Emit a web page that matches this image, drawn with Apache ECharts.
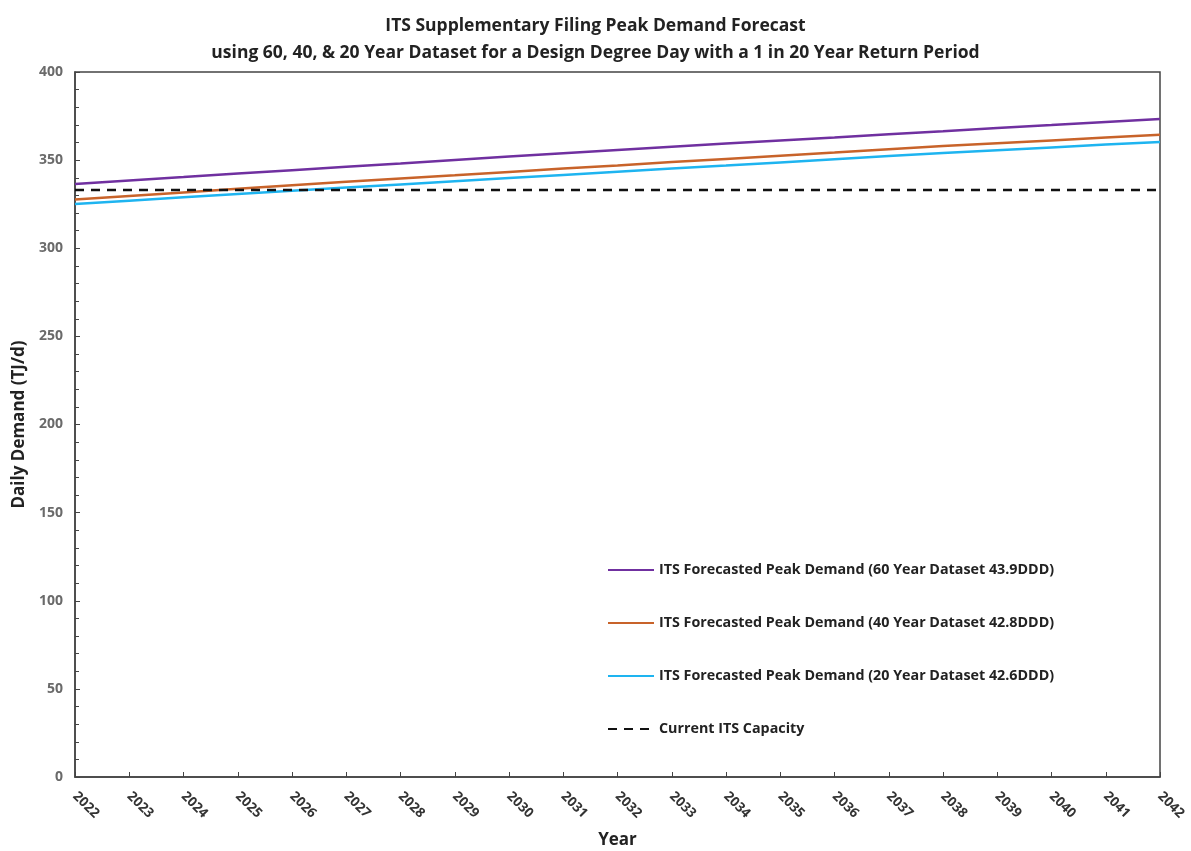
<!DOCTYPE html>
<html><head><meta charset="utf-8">
<script src="https://cdn.jsdelivr.net/npm/echarts@6/dist/echarts.min.js"></script>
<style>html,body{margin:0;padding:0;background:#fff}#c{width:1191px;height:851px}</style>
</head><body><div id="c"></div>
<script>
const years = ['2022','2023','2024','2025','2026','2027','2028','2029','2030','2031','2032','2033','2034','2035','2036','2037','2038','2039','2040','2041','2042'];
const demand60 = [336.5,338.5,340.4,342.4,344.3,346.2,348.1,350.1,352.0,353.9,355.8,357.6,359.4,361.2,362.9,364.7,366.4,368.2,369.9,371.7,373.4];
const demand40 = [327.7,329.7,331.7,333.7,335.7,337.7,339.6,341.4,343.3,345.2,347.0,348.9,350.7,352.5,354.3,356.2,358.0,359.6,361.2,362.8,364.4];
const demand20 = [325.1,327.0,328.9,330.8,332.6,334.4,336.2,338.0,339.8,341.6,343.4,345.2,346.9,348.7,350.5,352.3,354.0,355.6,357.2,358.8,360.3];
const capacity = [333,333,333,333,333,333,333,333,333,333,333,333,333,333,333,333,333,333,333,333,333];
const seriesNames = [
  'ITS Forecasted Peak Demand (60 Year Dataset 43.9DDD)',
  'ITS Forecasted Peak Demand (40 Year Dataset 42.8DDD)',
  'ITS Forecasted Peak Demand (20 Year Dataset 42.6DDD)',
  'Current ITS Capacity'
];
const titleText = 'ITS Supplementary Filing Peak Demand Forecast\nusing 60, 40, & 20 Year Dataset for a Design Degree Day with a 1 in 20 Year Return Period';

const FONT = '"Open Sans", "Liberation Sans", sans-serif';
const chart = echarts.init(document.getElementById('c'), null, {renderer:'canvas'});
const mk = (name, data, color, dashed) => ({
  name, type:'line', data, symbol:'none', showSymbol:false, smooth:false,
  lineStyle:{color, width:2.5, type: dashed ? [9,7] : 'solid'},
  itemStyle:{color}, animation:false
});
chart.setOption({
  animation:false,
  title:{text:titleText, left:'center', top:8, textStyle:{fontFamily:FONT, fontSize:17.5, fontWeight:'bold', color:'#222', lineHeight:27}},
  grid:{left:75, right:31, top:72, bottom:74, containLabel:false, outerBoundsMode:'none', show:true, borderColor:'#444', borderWidth:1.5, backgroundColor:'transparent'},
  legend:{orient:'vertical', left:602, top:558, itemWidth:46, itemHeight:14, itemGap:39,
    itemStyle:{opacity:0},
    textStyle:{fontFamily:FONT, fontSize:14.3, fontWeight:'bold', color:'#222'},
    data:seriesNames},
  xAxis:{type:'category', data:years, boundaryGap:false,
    name:'Year', nameLocation:'middle', nameGap:55,
    nameTextStyle:{fontFamily:FONT, fontSize:17, fontWeight:'bold', color:'#222'},
    axisLine:{lineStyle:{color:'#444', width:1.5}},
    axisTick:{inside:true, length:5, lineStyle:{color:'#444'}},
    axisLabel:{rotate:-45, margin:17, fontFamily:FONT, fontSize:13.5, fontWeight:'bold', color:'#333', interval:0},
    splitLine:{show:false}},
  yAxis:{type:'value', min:0, max:400, interval:50,
    name:'Daily Demand (TJ/d)', nameLocation:'middle', nameGap:46,
    nameTextStyle:{fontFamily:FONT, fontSize:17, fontWeight:'bold', color:'#222'},
    axisLine:{show:true, lineStyle:{color:'#444', width:1.5}},
    axisTick:{show:true, inside:true, length:5, lineStyle:{color:'#444'}},
    minorTick:{show:true, splitNumber:5, length:4, lineStyle:{color:'#444'}},
    axisLabel:{margin:12, fontFamily:FONT, fontSize:14, fontWeight:'bold', color:'#6a6a6a'},
    splitLine:{show:false}},
  series:[
    mk(seriesNames[0], demand60, '#7030A0', false),
    mk(seriesNames[1], demand40, '#C8632A', false),
    mk(seriesNames[2], demand20, '#1EB4F0', false),
    mk(seriesNames[3], capacity, '#111', true)
  ]
});
</script></body></html>
